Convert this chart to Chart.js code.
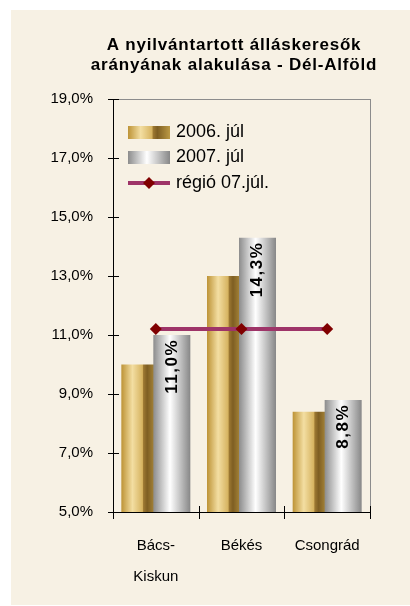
<!DOCTYPE html>
<html>
<head>
<meta charset="utf-8">
<script src="https://cdn.jsdelivr.net/npm/chart.js@4/dist/chart.umd.min.js"></script>
<style>
  html, body { margin: 0; padding: 0; background: #fff; }
  #wrap { position: absolute; left: 11px; top: 10px; width: 399px; height: 595px; background: #F7F1E4; }
</style>
</head>
<body>
<div id="wrap"><canvas id="chart" width="399" height="595"></canvas></div>
<script>
// data
const titleLines = ['A nyilvántartott álláskeresők', 'arányának alakulása - Dél-Alföld'];
const categories = [['Bács-', 'Kiskun'], 'Békés', 'Csongrád'];
const seriesNames = ['2006. júl', '2007. júl', 'régió 07.júl.'];
const jul2006 = [10.0, 13.0, 8.4];
const jul2007 = [11.0, 14.3, 8.8];
const regio = [11.2, 11.2, 11.2];
const yMin = 5, yMax = 19, yStep = 2;

const FONT = '"Liberation Sans", Arial, sans-serif';
const fmt = v => v.toFixed(1).replace('.', ',') + '%';

function goldGradient(ctx, x0, x1) {
    const g = ctx.createLinearGradient(x0, 0, x1, 0);
    g.addColorStop(0, '#BD9336');
    g.addColorStop(0.3, '#F3DEA2');
    g.addColorStop(0.57, '#D6B360');
    g.addColorStop(0.6, '#9C7832');
    g.addColorStop(0.7, '#7E5E22');
    g.addColorStop(1, '#BC9A45');
    return g;
}
function silverGradient(ctx, x0, x1) {
    const g = ctx.createLinearGradient(x0, 0, x1, 0);
    g.addColorStop(0, '#8C8C8C');
    g.addColorStop(0.45, '#FFFFFF');
    g.addColorStop(1, '#878787');
    return g;
}
const gradients = [goldGradient, silverGradient];

function line(ctx, x0, y0, x1, y1) {
    ctx.beginPath();
    ctx.moveTo(x0, y0);
    ctx.lineTo(x1, y1);
    ctx.stroke();
}
function diamond(ctx, x, y, r, color) {
    ctx.fillStyle = color;
    ctx.beginPath();
    ctx.moveTo(x, y - r);
    ctx.lineTo(x + r, y);
    ctx.lineTo(x, y + r);
    ctx.lineTo(x - r, y);
    ctx.closePath();
    ctx.fill();
}

const decor = {
    id: 'decor',
    beforeDatasetsDraw(chart) {
        const ctx = chart.ctx, ca = chart.chartArea;
        // grey frame top/right
        ctx.save();
        ctx.strokeStyle = '#8C8C8C';
        ctx.lineWidth = 1;
        line(ctx, ca.left, ca.top + 0.5, ca.right + 0.5, ca.top + 0.5);
        line(ctx, ca.right + 0.5, ca.top, ca.right + 0.5, ca.bottom);
        ctx.restore();
        // bar gradients
        [0, 1].forEach(di => {
            chart.getDatasetMeta(di).data.forEach(el => {
                const g = gradients[di](ctx, el.x - el.width / 2, el.x + el.width / 2);
                el.options = Object.assign({}, el.options, { backgroundColor: g });
            });
        });
    },
    // 2006 bars are overlapped by the 2007 bars: draw 2006 first
    beforeDatasetDraw(chart, args) {
        if (args.index === 0) return false;
        if (args.index === 1) {
            const ctx = chart.ctx, ca = chart.chartArea;
            ctx.save();
            ctx.beginPath();
            ctx.rect(ca.left, ca.top, ca.right - ca.left, ca.bottom - ca.top);
            ctx.clip();
            chart.getDatasetMeta(0).controller.draw();
            ctx.restore();
        }
    },
    afterDatasetsDraw(chart) {
        const ctx = chart.ctx, ca = chart.chartArea;
        const ya = chart.scales.y;
        ctx.save();
        // value labels in the 2007 bars
        ctx.fillStyle = '#000';
        ctx.font = 'bold 17px ' + FONT;
        ctx.letterSpacing = '1.5px';
        ctx.textAlign = 'right';
        ctx.textBaseline = 'middle';
        chart.getDatasetMeta(1).data.forEach((el, i) => {
            ctx.save();
            ctx.translate(el.x, el.y + 4);
            ctx.rotate(-Math.PI / 2);
            ctx.fillText(fmt(jul2007[i]), 0, 0);
            ctx.restore();
        });
        ctx.letterSpacing = '0px';
        // axes and crossing tick marks
        ctx.strokeStyle = '#000';
        ctx.lineWidth = 1;
        line(ctx, ca.left + 0.5, ca.top, ca.left + 0.5, ca.bottom + 1);
        line(ctx, ca.left, ca.bottom + 0.5, ca.right + 1, ca.bottom + 0.5);
        ya.ticks.forEach(t => {
            const y = Math.round(ya.getPixelForValue(t.value)) + 0.5;
            line(ctx, ca.left - 5, y, ca.left + 6, y);
        });
        const w = (ca.right - ca.left) / categories.length;
        for (let i = 0; i <= categories.length; i++) {
            const x = Math.round(ca.left + i * w) + 0.5;
            line(ctx, x, ca.bottom - 6, x, ca.bottom + 7);
        }
        ctx.restore();
    },
    afterDraw(chart) {
        const ctx = chart.ctx, ca = chart.chartArea;
        ctx.save();
        // title
        ctx.fillStyle = '#000';
        ctx.font = 'bold 17px ' + FONT;
        ctx.letterSpacing = '0.8px';
        ctx.textAlign = 'center';
        ctx.textBaseline = 'alphabetic';
        titleLines.forEach((t, i) => ctx.fillText(t, 223, 40 + i * 20));
        ctx.letterSpacing = '0px';
        // legend inside plot area
        const lx = ca.left + 15, sw = 42, sh = 13;
        const rows = [ca.top + 33, ca.top + 58.5, ca.top + 84];
        ctx.font = '18px ' + FONT;
        ctx.textAlign = 'left';
        ctx.textBaseline = 'middle';
        [0, 1].forEach(di => {
            const y = rows[di];
            ctx.fillStyle = gradients[di](ctx, lx, lx + sw);
            ctx.fillRect(lx, Math.round(y - sh / 2), sw, sh);
            ctx.fillStyle = '#000';
            ctx.fillText(chart.data.datasets[di].label, lx + sw + 6, y);
        });
        const ly = rows[2];
        const ds = chart.data.datasets[2];
        ctx.strokeStyle = ds.borderColor;
        ctx.lineWidth = ds.borderWidth;
        line(ctx, lx, ly, lx + sw, ly);
        diamond(ctx, lx + sw / 2, ly, 6, ds.pointBackgroundColor);
        ctx.fillStyle = '#000';
        ctx.fillText(ds.label, lx + sw + 6, ly);
        ctx.restore();
    }
};

new Chart(document.getElementById('chart').getContext('2d'), {
    type: 'bar',
    data: {
        labels: categories,
        datasets: [{
            label: seriesNames[0],
            data: jul2006,
            backgroundColor: '#D6B360',
            borderWidth: 0,
            categoryPercentage: 0.747,
            barPercentage: 1.156,
            order: 1
        }, {
            label: seriesNames[1],
            data: jul2007,
            backgroundColor: '#CCCCCC',
            borderWidth: 0,
            categoryPercentage: 0.747,
            barPercentage: 1.156,
            order: 1
        }, {
            type: 'line',
            label: seriesNames[2],
            data: regio,
            borderColor: '#9E3468',
            borderWidth: 4,
            pointStyle: 'rectRot',
            pointRadius: 6,
            pointBackgroundColor: '#800000',
            pointBorderColor: '#800000',
            pointBorderWidth: 0,
            order: 0
        }]
    },
    options: {
        responsive: false,
        animation: false,
        events: [],
        layout: { padding: { top: 89, right: 40, left: 0, bottom: 0 } },
        plugins: {
            legend: { display: false },
            title: { display: false },
            tooltip: { enabled: false }
        },
        scales: {
            x: {
                grid: { display: false, drawTicks: false },
                border: { display: false },
                ticks: {
                    color: '#000',
                    font: { family: FONT, size: 15, lineHeight: 2.07 },
                    padding: 18,
                    maxRotation: 0,
                    autoSkip: false
                },
                afterFit: s => { s.height = 93; }
            },
            y: {
                min: yMin,
                max: yMax,
                grid: { display: false, drawTicks: false },
                border: { display: false },
                ticks: {
                    stepSize: yStep,
                    color: '#000',
                    font: { family: FONT, size: 15 },
                    padding: 20,
                    callback: v => fmt(v)
                },
                afterFit: s => { s.width = 102; }
            }
        }
    },
    plugins: [decor]
});
</script>
</body>
</html>
